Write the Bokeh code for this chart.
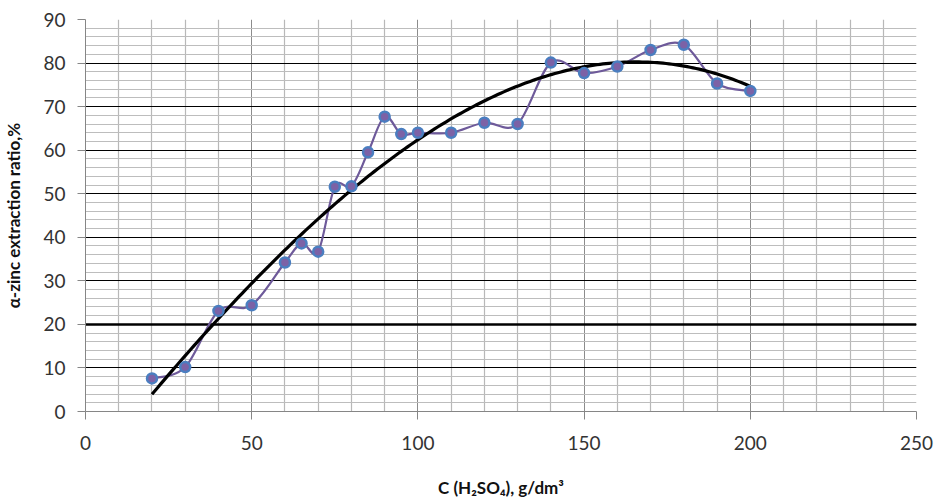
import numpy as np
from bokeh.plotting import figure
from bokeh.models import Range1d, FixedTicker, Grid, ColumnDataSource
from bokeh.embed import file_html
from bokeh.resources import INLINE

# ---- data ----
acid_conc = [20, 30, 40, 50, 60, 65, 70, 75, 80, 85, 90, 95, 100, 110, 120, 130,
             140, 150, 160, 170, 180, 190, 200]
zinc_extraction = [7.6, 10.2, 23.1, 24.4, 34.2, 38.6, 36.7, 51.6, 51.7, 59.5, 67.7,
                   63.7, 64.0, 64.0, 66.3, 66.0, 80.1, 77.7, 79.2, 83.0, 84.2, 75.3, 73.6]
x_ticks = [0, 50, 100, 150, 200, 250]
x_minor = [10, 20, 30, 40, 60, 70, 80, 90, 110, 120, 130, 140, 160, 170, 180, 190,
           210, 220, 230, 240]
y_ticks = [0, 10, 20, 30, 40, 50, 60, 70, 80, 90]
y_minor = [v for v in range(0, 91, 2)]
y_emphasis = [20]

FONT = "Lato"

p = figure(width=935, height=500, output_backend="svg", toolbar_location=None,
           x_range=Range1d(0, 250), y_range=Range1d(0, 90),
           min_border_left=84, min_border_right=19, min_border_top=19, min_border_bottom=88)
p.outline_line_color = None
p.background_fill_color = "white"

# axes
p.xaxis.ticker = FixedTicker(ticks=x_ticks, minor_ticks=x_minor)
p.yaxis.ticker = FixedTicker(ticks=y_ticks, minor_ticks=y_minor)
for ax in (p.xaxis[0], p.yaxis[0]):
    ax.axis_line_color = "#868686"
    ax.major_tick_line_color = "#868686"
    ax.minor_tick_line_color = None
    ax.major_tick_in = 0
    ax.major_tick_out = 8
    ax.major_label_text_font = FONT
    ax.major_label_text_font_size = "19px"
    ax.major_label_text_color = "#333333"
    ax.axis_label_text_font = FONT
    ax.axis_label_text_font_style = "bold"
    ax.axis_label_text_font_size = "17px"
    ax.axis_label_text_color = "#111111"

p.xaxis.major_label_standoff = 16
p.yaxis.major_label_standoff = 12
p.xaxis.axis_label = "C (H\u2082SO\u2084), g/dm\u00b3"
p.yaxis.axis_label = "\u03b1-zinc extraction ratio,%"
p.xaxis.axis_label_standoff = 24
p.yaxis.axis_label_standoff = 16

# grids
p.xgrid.grid_line_color = "#8c8c8c"
p.xgrid.grid_line_width = 1
p.xgrid.minor_grid_line_color = "#b8b8b8"
p.xgrid.minor_grid_line_width = 1.2
p.ygrid.grid_line_color = "black"
p.ygrid.grid_line_width = 1.2
p.ygrid.minor_grid_line_color = "#bdbdbd"
p.ygrid.minor_grid_line_width = 1.2
emph = Grid(dimension=1, ticker=FixedTicker(ticks=y_emphasis),
            grid_line_color="black", grid_line_width=2.5)
p.add_layout(emph)

# smoothed data line (Catmull-Rom style bezier segments through the measured points)
xs = np.array(acid_conc, dtype=float)
ys = np.array(zinc_extraction, dtype=float)
n = len(xs)
x0, y0, x1, y1, cx0, cy0, cx1, cy1 = [], [], [], [], [], [], [], []
for i in range(n - 1):
    ip = max(i - 1, 0)
    inn = min(i + 2, n - 1)
    x0.append(xs[i]); y0.append(ys[i])
    x1.append(xs[i + 1]); y1.append(ys[i + 1])
    cx0.append(xs[i] + (xs[i + 1] - xs[ip]) / 6.0)
    cy0.append(ys[i] + (ys[i + 1] - ys[ip]) / 6.0)
    cx1.append(xs[i + 1] - (xs[inn] - xs[i]) / 6.0)
    cy1.append(ys[i + 1] - (ys[inn] - ys[i]) / 6.0)
bsrc = ColumnDataSource(dict(x0=x0, y0=y0, x1=x1, y1=y1, cx0=cx0, cy0=cy0, cx1=cx1, cy1=cy1))
p.bezier(x0="x0", y0="y0", x1="x1", y1="y1", cx0="cx0", cy0="cy0", cx1="cx1", cy1="cy1",
         source=bsrc, line_color="#6E5A9A", line_width=2.2)

# polynomial trend line (least squares fit of the measured points)
coef = np.polyfit(xs, ys, 3)
tx = np.linspace(xs.min(), xs.max(), 200)
p.line(tx, np.polyval(coef, tx), line_color="black", line_width=3.2)

# markers
p.scatter(acid_conc, zinc_extraction, marker="circle", size=10,
          fill_color="#7C62A6", line_color="#4A7EC0", line_width=2.5)

open("out.html", "w").write(file_html(p, INLINE))
